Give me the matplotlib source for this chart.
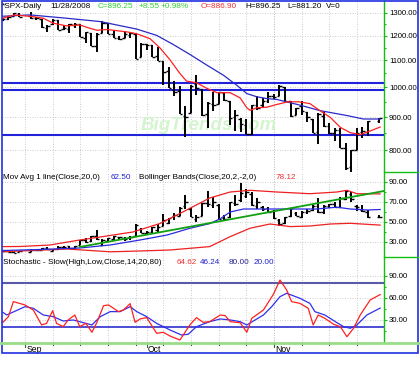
import numpy as np
import matplotlib
matplotlib.use("Agg")
import matplotlib.pyplot as plt
from matplotlib.lines import Line2D
from matplotlib.patches import Rectangle
from matplotlib.ticker import FixedLocator, FormatStrFormatter
import matplotlib.transforms as mtrans

plt.rcParams['font.family'] = ['Liberation Sans', 'DejaVu Sans']

W, H = 420, 367

# ---- data ----
dates = ['2008-08-26', '2008-08-27', '2008-08-28', '2008-08-29',
         '2008-09-02', '2008-09-03', '2008-09-04', '2008-09-05', '2008-09-08', '2008-09-09',
         '2008-09-10', '2008-09-11', '2008-09-12', '2008-09-15', '2008-09-16', '2008-09-17',
         '2008-09-18', '2008-09-19', '2008-09-22', '2008-09-23', '2008-09-24', '2008-09-25',
         '2008-09-26', '2008-09-29', '2008-09-30',
         '2008-10-01', '2008-10-02', '2008-10-03', '2008-10-06', '2008-10-07', '2008-10-08',
         '2008-10-09', '2008-10-10', '2008-10-13', '2008-10-14', '2008-10-15', '2008-10-16',
         '2008-10-17', '2008-10-20', '2008-10-21', '2008-10-22', '2008-10-23', '2008-10-24',
         '2008-10-27', '2008-10-28', '2008-10-29', '2008-10-30', '2008-10-31',
         '2008-11-03', '2008-11-04', '2008-11-05', '2008-11-06', '2008-11-07', '2008-11-10',
         '2008-11-11', '2008-11-12', '2008-11-13', '2008-11-14', '2008-11-17', '2008-11-18',
         '2008-11-19', '2008-11-20', '2008-11-21', '2008-11-24', '2008-11-25', '2008-11-26',
         '2008-11-28']

spx_open = [1267, 1271, 1284, 1296, 1288, 1277, 1272, 1233, 1250, 1268,
            1228, 1229, 1246, 1251, 1188, 1210, 1157, 1213, 1255, 1208, 1189, 1188,
            1204, 1209, 1114,
            1164, 1161, 1115, 1098, 1058, 989, 988, 902, 913, 1010, 995, 910,
            942, 944, 980, 952, 899, 895, 874, 849, 940, 939, 953,
            969, 971, 1002, 952, 907, 937, 917, 893, 853, 904, 873, 852,
            859, 806, 756, 801, 853, 853, 886.9]
spx_high = [1276, 1285, 1301, 1298, 1303, 1281, 1272, 1245, 1274, 1269,
            1244, 1250, 1255, 1251, 1215, 1210, 1211, 1265, 1255, 1219, 1197, 1220,
            1216, 1209, 1168,
            1167, 1161, 1154, 1098, 1073, 1021, 1005, 936, 1007, 1044, 995, 948,
            985, 985, 985, 952, 923, 896, 894, 941, 970, 963, 984,
            976, 1008, 1002, 952, 931, 952, 917, 893, 913, 917, 882, 866,
            865, 821, 801, 866, 869, 888, 896.25]
spx_low = [1263, 1270, 1284, 1283, 1272, 1266, 1233, 1217, 1247, 1225,
           1222, 1212, 1234, 1193, 1169, 1156, 1134, 1213, 1206, 1188, 1180, 1188,
           1188, 1106, 1114,
           1141, 1111, 1098, 1008, 996, 971, 909, 840, 913, 972, 904, 866,
           919, 944, 952, 876, 858, 853, 847, 845, 922, 929, 945,
           959, 971, 950, 900, 907, 907, 885, 850, 819, 870, 849, 827,
           806, 748, 741, 801, 835, 841, 881.2]
spx_close = [1272, 1282, 1301, 1283, 1278, 1275, 1237, 1242, 1268, 1225,
             1232, 1249, 1252, 1193, 1214, 1156, 1207, 1255, 1207, 1188, 1186, 1209,
             1213, 1106, 1166,
             1161, 1114, 1099, 1057, 996, 985, 910, 899, 1003, 998, 908, 946,
             941, 985, 955, 897, 908, 877, 849, 941, 930, 954, 969,
             966, 1006, 953, 905, 931, 919, 899, 852, 911, 873, 851, 859,
             807, 752, 800, 852, 857, 888, 896.25]

vix_open = [21.5, 21.0, 20.1, 19.8, 20.4, 22.0, 22.1, 24.3, 21.3, 22.6,
            25.2, 25.8, 24.4, 27.5, 32.5, 31.0, 36.5, 27.0, 31.0, 33.0, 35.0, 34.5,
            35.0, 35.6, 43.5,
            39.5, 40.0, 42.5, 46.2, 49.0, 56.0, 55.8, 66.3, 63.5, 53.0, 56.0, 69.0,
            67.5, 67.0, 54.0, 55.0, 69.5, 72.0, 76.0, 78.0, 66.0, 65.5, 64.0,
            61.0, 52.5, 49.0, 56.0, 59.5, 55.0, 60.0, 62.0, 66.5, 60.5, 66.0, 68.0,
            65.0, 73.0, 78.0, 66.0, 62.0, 60.5, 55.5]
vix_high = [22.0, 21.3, 20.3, 20.9, 22.6, 22.9, 24.5, 25.0, 22.9, 25.6,
            26.0, 26.4, 25.9, 31.7, 34.0, 36.5, 42.2, 32.8, 34.0, 36.1, 35.5, 35.0,
            36.0, 48.4, 44.0,
            41.0, 45.4, 47.7, 58.2, 54.0, 59.1, 64.9, 76.9, 64.0, 57.0, 69.5, 81.2,
            74.6, 67.9, 57.3, 70.0, 77.5, 89.5, 83.2, 80.5, 73.8, 66.0, 65.4,
            62.0, 53.5, 55.0, 64.0, 60.5, 61.5, 63.0, 66.9, 74.5, 66.8, 68.5, 70.5,
            74.6, 81.5, 80.5, 67.0, 67.0, 61.8, 57.0]
vix_low = [20.3, 19.9, 19.2, 19.6, 19.9, 21.3, 21.9, 22.6, 20.8, 22.4,
           24.1, 24.2, 23.8, 27.2, 29.0, 30.5, 32.0, 25.8, 30.5, 32.3, 33.5, 31.5,
           32.5, 35.0, 38.8,
           38.2, 39.5, 39.4, 46.0, 48.0, 52.5, 55.6, 62.8, 54.9, 50.0, 55.6, 65.0,
           64.5, 52.9, 51.2, 54.0, 65.6, 70.0, 74.0, 66.5, 62.8, 61.0, 59.5,
           53.5, 46.5, 48.2, 55.5, 56.0, 54.5, 58.5, 61.5, 59.5, 58.0, 64.5, 64.0,
           64.5, 72.0, 70.0, 61.0, 60.0, 54.5, 54.0]
vix_close = [21.0, 20.2, 19.4, 20.7, 22.0, 22.0, 24.0, 23.1, 22.6, 25.5,
             25.0, 24.4, 25.7, 31.7, 30.3, 36.2, 33.1, 32.1, 33.8, 35.7, 34.7, 32.8,
             34.7, 46.7, 39.4,
             39.8, 45.3, 45.1, 52.1, 53.7, 57.5, 63.9, 70.0, 55.0, 55.1, 69.3, 67.6,
             70.3, 53.0, 53.1, 69.7, 67.8, 79.1, 80.1, 67.0, 70.0, 62.9, 59.9,
             53.7, 47.7, 54.6, 63.7, 56.1, 60.0, 61.4, 66.5, 59.8, 66.3, 67.6, 64.7,
             74.3, 80.9, 72.7, 64.7, 60.9, 54.9, 55.3]

# overlay lines (x = weekday slot, value)
fast_ma_x = [0, 2, 5.5, 7.3, 9.1, 11.5, 13.9, 15.8, 17, 18.8, 20, 22.4, 24.2, 26.6, 28.4,
             30.2, 32, 33.2, 35, 36.9, 38.7, 41.1, 42.9, 44.1, 44.7, 45.9, 47.7, 49.5,
             51.5, 53.5, 55.5, 57.3, 59.2, 61, 62.8, 64.6, 66.4, 68.2]
fast_ma_y = [1276, 1291, 1283, 1276, 1254, 1242, 1246, 1231, 1223, 1226, 1223, 1216, 1208,
             1187, 1149, 1102, 1050, 1022, 1016, 996, 981, 981, 963, 930, 922, 930, 932,
             941, 950, 950, 944, 921, 899, 868, 852, 846, 857, 869]
slow_ma_x = [0, 4.9, 11.5, 17.6, 24.2, 27.8, 30.8, 33.8, 36.9, 39.9, 42.3, 44.1, 45.9,
             47.7, 49.5, 53.7, 57.3, 62.2, 65.2, 68.2]
slow_ma_y = [1285, 1291, 1276, 1261, 1228, 1201, 1163, 1123, 1081, 1043, 1007, 978, 967,
             961, 958, 939, 921, 905, 894, 894]
levels = [1014, 989, 844]

bb_up_x = [0, 3.1, 8.5, 13.9, 17.6, 23.5, 28.4, 32, 37.4, 41.1, 44.7, 49.5, 55.5, 60.4,
           62.2, 64, 68.2]
bb_up_y = [25.4, 25.5, 27, 32, 35, 40, 48.5, 58.5, 74, 80, 81.7, 80, 78.3, 80, 81.7,
           78.3, 78.1]
bb_lo_x = [0, 3.1, 11.6, 19.4, 24.8, 30.2, 37.4, 41.1, 44.7, 48.3, 51.9, 55.5, 59.2,
           62.8, 68.2]
bb_lo_y = [20.2, 21, 23, 20.2, 21, 22, 25.4, 35.4, 43.8, 48, 45.4, 46, 48, 48.7, 46.9]
vix_ma_x = [0, 6.7, 13.9, 19.4, 24.8, 29.7, 33.8, 37.4, 39.3, 41.1, 43.5, 46.5, 52.5,
            56.7, 60.4, 62.8, 66, 68.2]
vix_ma_y = [21.5, 22.5, 24, 27, 32, 37, 43.7, 48.4, 53.3, 60, 63, 63, 63, 63, 64.8, 63,
            62, 62.5]
trend_x = [13.9, 68.9]
trend_y = [25, 81]

stoch_k_x = [0, 1.0, 1.9, 4.0, 5.5, 7.0, 7.9, 9.0, 9.7, 10.9, 11.8, 13.0, 13.9, 15.0,
             16.1, 17.0, 18.2, 19.1, 20.9, 21.8, 23.0, 23.9, 24.8, 26.0, 27.8, 29.0,
             30.2, 32.0, 33.8, 35.0, 36.2, 37.4, 39.3, 40.2, 41.1, 42.9, 44.1, 45.0,
             47.1, 48.9, 50.1, 51.3, 52.2, 53.7, 55.2, 56.1, 57.0, 58.2, 59.8, 61.0,
             62.2, 63.4, 64.6, 66.4, 68.2]
stoch_k_y = [26.8, 34.5, 55, 50.5, 43.6, 23.2, 25.4, 42.7, 25.4, 20.9, 30, 36.8, 20.9,
             25.4, 13.2, 26.8, 49.5, 50.5, 41.4, 43.6, 52.3, 26.8, 31.4, 33.2, 11.8,
             13.2, 8.2, 2.7, 23.2, 33.2, 26.8, 27.7, 36.8, 35.9, 27.7, 26.3, 13.2, 32.3,
             43.6, 65, 84.5, 70.9, 55, 52.7, 45.9, 23.2, 36.8, 32.3, 24.1, 20.9, 7.2,
             18.7, 36.8, 57.3, 64.6]
stoch_d_x = [0, 0.7, 4.0, 5.5, 7.3, 9.1, 10.9, 12.7, 13.9, 16.1, 17.6, 19.4, 21.2, 23.0,
             24.2, 26.0, 27.8, 30.2, 32.3, 33.5, 35.0, 37.4, 39.3, 41.1, 42.9, 44.1,
             45.6, 47.1, 48.6, 50.1, 51.3, 53.7, 55.5, 56.4, 58.2, 60.1, 61.6, 62.8,
             64.0, 65.8, 68.2]
stoch_d_y = [40.5, 36.8, 48.2, 45.9, 36.8, 34.5, 28.6, 30, 27.7, 23.2, 34.5, 41.4, 41.4,
             48.2, 41.4, 34.5, 25.4, 16.4, 9.5, 10.5, 20.9, 27.7, 31.4, 30, 27.7, 23.2,
             30, 36.8, 48.2, 61.8, 66.4, 59.6, 52.7, 41.4, 36.8, 27.7, 20.9, 18.7, 23.2,
             36.8, 46.2]

month_labels = ['Sep', 'Oct', 'Nov']
month_dates = ['2008-09-01', '2008-10-01', '2008-11-03']

# ---- layout helpers (pixel boxes) ----
def box(x0, y0, x1, y1):
    return [x0 / W, 1 - y1 / H, (x1 - x0) / W, (y1 - y0) / H]

x = np.busday_count('2008-08-26', dates)
xm = np.busday_count('2008-08-26', month_dates)
weeks = np.arange(9, 69, 5)
xlim = (-0.16, 68.9)

fig = plt.figure(figsize=(W / 100, H / 100), dpi=100)

green_axis = '#10c010'
grid_kw = dict(color='#bbbbbb', lw=0.6, ls=(0, (1, 2)), zorder=0)


def setup(ax, ylim, ticks, minor):
    ax.set_xlim(*xlim)
    ax.set_ylim(*ylim)
    for s in ['top', 'left', 'bottom']:
        ax.spines[s].set_visible(False)
    ax.spines['right'].set_color(green_axis)
    ax.spines['right'].set_linewidth(1.0)
    ax.yaxis.tick_right()
    ax.yaxis.set_major_locator(FixedLocator(ticks))
    ax.yaxis.set_minor_locator(FixedLocator(minor))
    ax.yaxis.set_major_formatter(FormatStrFormatter('%.2f'))
    ax.yaxis.set_minor_formatter(FormatStrFormatter(''))
    ax.tick_params(axis='y', which='major', colors=green_axis, length=2.5, width=0.8,
                   pad=1.0, labelsize=5.6, labelcolor='black')
    ax.tick_params(axis='y', which='minor', colors=green_axis, length=1.5, width=0.8)
    ax.set_xticks([])
    for t in ticks:
        ax.axhline(t, **grid_kw)
    for w in list(weeks) + list(xm):
        ax.axvline(w, **grid_kw)


def ohlc(ax, o, h, l, c, lw=1.4):
    ax.vlines(x, l, h, color='black', lw=lw, zorder=3)
    ax.hlines(o, x - 0.45, x, color='black', lw=1.0, zorder=3)
    ax.hlines(c, x, x + 0.45, color='black', lw=1.0, zorder=3)


# price panel
ax1 = fig.add_axes(box(2, 1, 384, 172))
ax1.set_yscale('log')
setup(ax1, (741.5, 1356), [800, 900, 1000, 1100, 1200, 1300],
      [850, 950, 1050, 1150, 1250])
ax1.text(209 / W, 1 - 126 / H, 'BigTrends.com', transform=fig.transFigure,
         ha='center', va='center', fontsize=13.5, fontweight='bold', fontstyle='italic',
         color='#d4f4d0', zorder=1)
for lv in levels:
    ax1.axhline(lv, color='#2222dd', lw=1.5, zorder=2)
ohlc(ax1, spx_open, spx_high, spx_low, spx_close)
ax1.plot(slow_ma_x, slow_ma_y, color='#2a2ac8', lw=0.9, zorder=4)
ax1.plot(fast_ma_x, fast_ma_y, color='#ff2020', lw=0.9, zorder=4)

# VIX panel
ax2 = fig.add_axes(box(2, 172, 384, 257))
setup(ax2, (15, 100), [30, 50, 70, 90], [40, 60, 80])
ohlc(ax2, vix_open, vix_high, vix_low, vix_close)
ax2.plot(bb_up_x, bb_up_y, color='#ee2020', lw=0.9, zorder=4)
ax2.plot(bb_lo_x, bb_lo_y, color='#ee2020', lw=0.9, zorder=4)
ax2.plot(vix_ma_x, vix_ma_y, color='#2a2ae0', lw=0.9, zorder=4)
ax2.plot(trend_x, trend_y, color='#10a010', lw=1.3, zorder=5)

# stochastic panel
ax3 = fig.add_axes(box(2, 257, 384, 343))
setup(ax3, (-1.4, 115.9), [30, 60, 90], [15, 45, 75])
ax3.axhline(80, color='#5a5aa8', lw=1.5, zorder=2)
ax3.axhline(20, color='#1c1ccc', lw=1.1, zorder=2)
ax3.plot(stoch_d_x, stoch_d_y, color='#3030ee', lw=0.9, zorder=4)
ax3.plot(stoch_k_x, stoch_k_y, color='#ff2020', lw=0.9, zorder=4)

# date axis ticks and labels
bt = mtrans.blended_transform_factory(ax3.transData, fig.transFigure)
for w in weeks:
    ax3.add_line(Line2D([w, w], [1 - 344.5 / H, 1 - 341.5 / H], transform=bt,
                        color='#207020', lw=0.8, clip_on=False))
for m, lab in zip(xm, month_labels):
    ax3.add_line(Line2D([m, m], [1 - 347 / H, 1 - 341.5 / H], transform=bt,
                        color='#207020', lw=0.8, clip_on=False))
    ax3.text(m + 0.25, 1 - 350 / H, lab, transform=bt, fontsize=6.2, ha='left',
             va='center', clip_on=False)

# frame lines
fig.add_artist(Line2D([0, 418 / W], [1 - 343 / H] * 2, color='#99dd88', lw=2.0))
fig.add_artist(Line2D([384 / W, 418 / W], [1 - 172 / H] * 2, color=green_axis, lw=1.0))
fig.add_artist(Line2D([384 / W, 418 / W], [1 - 257 / H] * 2, color=green_axis, lw=1.0))
fig.add_artist(Rectangle((2 / W, 1 - 353 / H), 416 / W, 352 / H, fill=False,
                         edgecolor='#2030e0', lw=1.2, transform=fig.transFigure))


def label(px, py, s, color='black', size=5.9):
    fig.text(px / W, 1 - py / H, s, color=color, fontsize=size, ha='left', va='center')


green_t = '#30d030'
label(2, 6.5, '*SPX-Daily')
label(50.7, 6.5, '11/28/2008')
label(97.3, 6.5, 'C=896.25', green_t)
label(139, 6.5, '+8.55', green_t)
label(161, 6.5, '+0.98%', green_t)
label(200.7, 6.5, 'O=886.90', '#f03030')
label(245, 6.5, 'H=896.25')
label(287.3, 6.5, 'L=881.20')
label(325.7, 6.5, 'V=0')

label(2.7, 177.7, 'Mov Avg 1 line(Close,20,0)')
label(111, 177.7, '62.50', '#2020d0')
label(139.3, 177.7, 'Bollinger Bands(Close,20,2,-2,0)')
label(275.3, 177.7, '78.12', '#f03030')

label(2.7, 262.7, 'Stochastic - Slow(High,Low,Close,14,20,80)')
label(176.7, 262.7, '64.62', '#f03030')
label(200, 262.7, '46.24', '#2020d0')
label(228.3, 262.7, '80.00', '#202090')
label(253.3, 262.7, '20.00', '#2020d0')

fig.savefig('out.png', dpi=100)
